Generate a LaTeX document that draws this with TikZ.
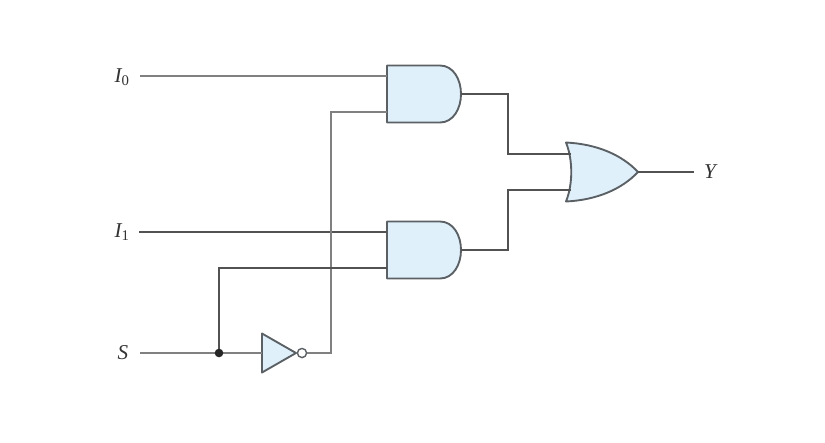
\documentclass[tikz,border=0pt]{standalone}
\usepackage{fontspec}
\setmainfont{Liberation Serif}
\definecolor{gatefill}{HTML}{DFF0FB}
\definecolor{gateline}{HTML}{5A6064}
\tikzset{
	gate/.style={draw=gateline, fill=gatefill, line width=1.6pt, line join=round},
	wire/.style={draw=black!68, line width=1.4pt},
	lightwire/.style={draw=black!50, line width=1.4pt},
	lbl/.style={inner sep=0pt, font=\fontsize{18}{18}\selectfont\itshape, text=black!80},
	pics/andgate/.style={code={
		\draw[gate] (-37,-28.5) -- (-37,28.5) -- (16,28.5) .. controls (29,28.5) and (37,15) .. (37,0) .. controls (37,-15) and (29,-28.5) .. (16,-28.5) -- cycle;
		\coordinate (-in1) at (-37,18);
		\coordinate (-in2) at (-37,-18);
		\coordinate (-out) at (37,0);
	}},
	pics/orgate/.style={code={
		\draw[gate] (-36,29.5) .. controls (-5,28) and (20,17) .. (36,0) .. controls (20,-17) and (-5,-28) .. (-36,-29.5) .. controls (-29,-12) and (-29,12) .. cycle;
		\coordinate (-in1) at (-31.5,18);
		\coordinate (-in2) at (-31.5,-18);
		\coordinate (-out) at (36,0);
	}},
	pics/notgate/.style={code={
		\draw[gate] (-16,19.5) -- (18,0) -- (-16,-19.5) -- cycle;
		\coordinate (-in) at (-16,0);
		\coordinate (-bub) at (24,0);
		\coordinate (-out) at (29,0);
	}}
}
\begin{document}
\begin{tikzpicture}[x=0.03cm, y=-0.03cm]
	\useasboundingbox (0,0) rectangle (825,442);
	% labels
	\node[lbl] (i0) at (122,77) {I\textsubscript{\upshape 0}};
	\node[lbl] (i1) at (122,232) {I\textsubscript{\upshape 1}};
	\node[lbl] (s) at (123,352.5) {S};
	\node[lbl] (y) at (710,172) {Y};
	\coordinate (i0s) at (140,76);
	\coordinate (i1s) at (139,232);
	\coordinate (ss) at (140,353);
	\coordinate (ye) at (694,172);
	\coordinate (dot) at (219,353);
	% gates
	\pic[yscale=-1] (and0) at (424,94) {andgate};
	\pic[yscale=-1] (and1) at (424,250) {andgate};
	\pic[yscale=-1] (or) at (602,172) {orgate};
	\pic[yscale=-1] (inv) at (278,353) {notgate};
	\draw[gate, fill=white, line width=1.2pt] (inv-bub) circle (4.6);
	% wires
	\draw[lightwire] (i0s) -- (i0s -| and0-in1);
	\draw[wire] (i1s) -- (i1s -| and1-in1);
	\draw[lightwire] (inv-out) -- (331,353) |- (and0-in2);
	\draw[wire] (dot) |- (and1-in2);
	\draw[lightwire] (ss) -- (inv-in);
	\fill[black!85] (dot) circle (4.3);
	\draw[wire] (and0-out) -- (508,94) |- (or-in1);
	\draw[wire] (and1-out) -- (508,250) |- (or-in2);
	\draw[wire] (or-out) -- (ye);
\end{tikzpicture}
\end{document}
